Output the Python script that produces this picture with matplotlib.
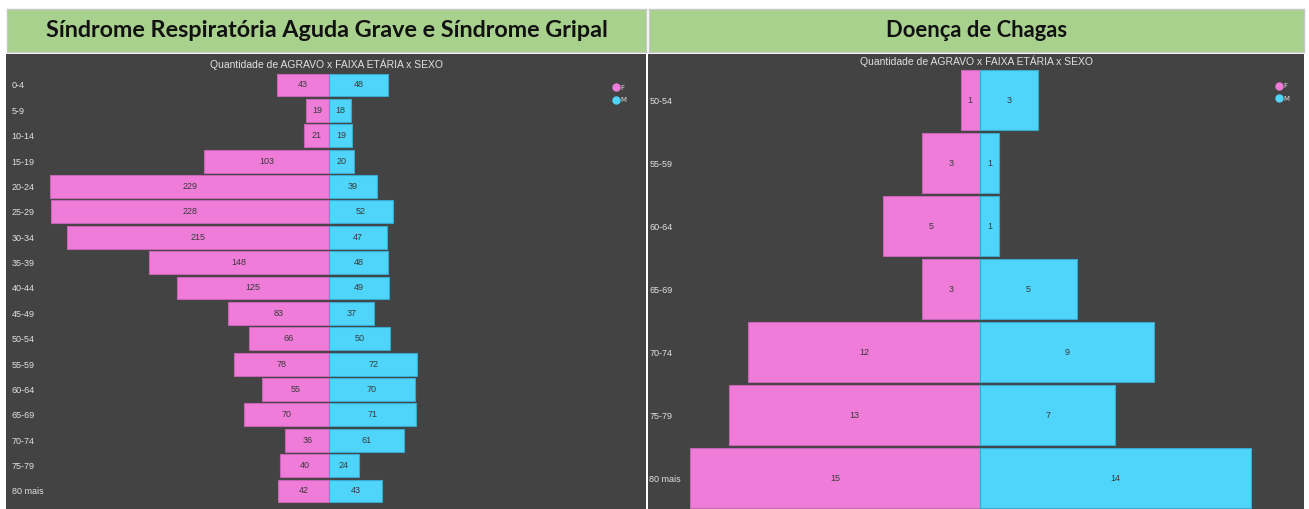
import matplotlib
matplotlib.use("Agg")
import matplotlib.pyplot as plt
from matplotlib.lines import Line2D
import numpy as np

faixas_srag = ["0-4", "5-9", "10-14", "15-19", "20-24", "25-29", "30-34", "35-39",
               "40-44", "45-49", "50-54", "55-59", "60-64", "65-69", "70-74",
               "75-79", "80 mais"]
srag_f = [43, 19, 21, 103, 229, 228, 215, 148, 125, 83, 66, 78, 55, 70, 36, 40, 42]
srag_m = [48, 18, 19, 20, 39, 52, 47, 48, 49, 37, 50, 72, 70, 71, 61, 24, 43]

faixas_chagas = ["50-54", "55-59", "60-64", "65-69", "70-74", "75-79", "80 mais"]
chagas_f = [1, 3, 5, 3, 12, 13, 15]
chagas_m = [3, 1, 1, 5, 9, 7, 14]

titulo_srag = "Síndrome Respiratória Aguda Grave e Síndrome Gripal"
titulo_chagas = "Doença de Chagas"
subtitulo = "Quantidade de AGRAVO x FAIXA ETÁRIA x SEXO"

PINK = "#F07CD9"
CYAN = "#4FD5FA"
BG = "#434343"
GREEN = "#A9D18E"
SMALL = ["Liberation Sans Narrow", "Liberation Sans", "DejaVu Sans"]

W, H = 1309, 509
fig = plt.figure(figsize=(W / 100, H / 100), dpi=100)
fig.patch.set_facecolor("white")


def box(x0, y0, x1, y1):
    # pixel coords (top-left origin) -> figure fraction
    return [x0 / W, 1 - y1 / H, (x1 - x0) / W, (y1 - y0) / H]


def header(rect, text, size):
    hx = fig.add_axes(rect)
    hx.set_facecolor(GREEN)
    hx.set_xticks([])
    hx.set_yticks([])
    for s in hx.spines.values():
        s.set_color("#c8c8c8")
        s.set_linewidth(1)
    hx.text(0.5, 0.5, text, ha="center", va="center", fontsize=size,
            fontweight="bold", family="Lato", color="#111111")


def piramide(ax, faixas, f, m, xlim, ylim, h, pad, leg_anchor, title_y):
    y = np.arange(len(faixas))
    ax.set_facecolor(BG)
    bf = ax.barh(y, -np.array(f), height=h, color=PINK, edgecolor="#c565b3", linewidth=0.8)
    bm = ax.barh(y, m, height=h, color=CYAN, edgecolor="#3aa9cc", linewidth=0.8)
    ax.bar_label(bf, labels=[str(v) for v in f], label_type="center",
                 fontsize=6.5, color="#3a3a3a", family=SMALL)
    ax.bar_label(bm, labels=[str(v) for v in m], label_type="center",
                 fontsize=6.5, color="#3a3a3a", family=SMALL)
    ax.set_xlim(*xlim)
    ax.set_ylim(*ylim)
    ax.set_xticks([])
    ax.set_yticks(y, faixas)
    ax.tick_params(axis="y", length=0, pad=pad, labelsize=6.5, labelcolor="#e0e0e0")
    for lab in ax.get_yticklabels():
        lab.set_ha("left")
        lab.set_family(SMALL)
    for s in ax.spines.values():
        s.set_visible(False)
    ax.set_title(subtitulo, y=title_y, pad=0, va="center", fontsize=7.5,
                 color="#e0e0e0", family=SMALL)
    hs = [Line2D([], [], marker="o", ls="", color=PINK, markersize=5),
          Line2D([], [], marker="o", ls="", color=CYAN, markersize=5)]
    leg = ax.legend(hs, ["F", "M"], loc="upper left", bbox_to_anchor=leg_anchor,
                    frameon=False, fontsize=5, handlelength=0.6,
                    handletextpad=0.3, labelspacing=0.9, borderpad=0)
    for t in leg.get_texts():
        t.set_color("#dcdcdc")


header(box(7, 9, 646, 52), titulo_srag, 16.8)
header(box(649, 9, 1304, 52), titulo_chagas, 15.8)

ax1 = fig.add_axes(box(6, 54, 646, 509))
piramide(ax1, faixas_srag, srag_f, srag_m, (-265, 259.6), (16.71, -1.22), 0.9,
         -4, (0.944, 0.94), 0.978)

ax2 = fig.add_axes(box(648, 54, 1304, 509))
piramide(ax2, faixas_chagas, chagas_f, chagas_m, (-17.17, 16.76), (6.49, -0.73), 0.95,
         -1, (0.954, 0.943), 0.985)

fig.savefig("out.png", dpi=100, facecolor="white")
